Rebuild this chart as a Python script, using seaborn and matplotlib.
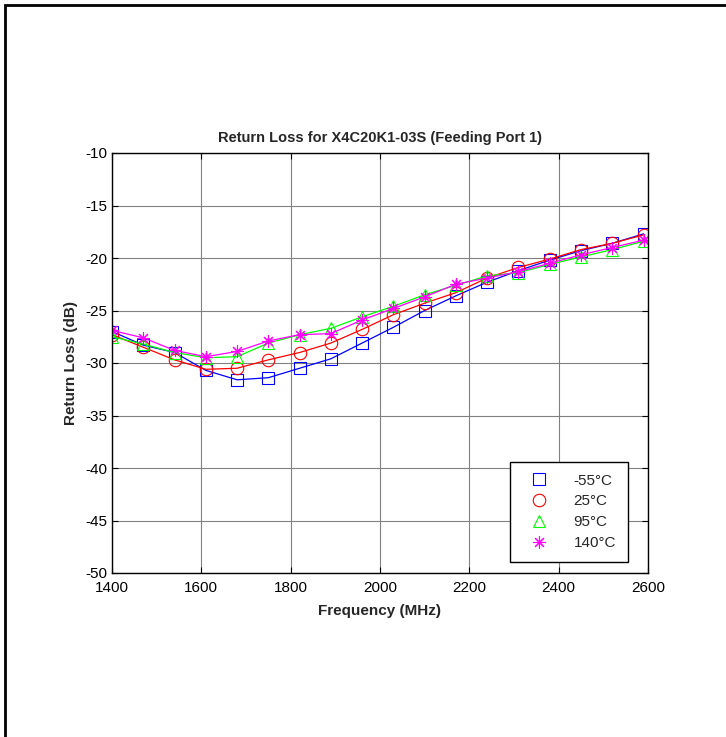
import numpy as np
import pandas as pd
import matplotlib
matplotlib.use("Agg")
import matplotlib.pyplot as plt
from matplotlib.lines import Line2D
from matplotlib.patches import Rectangle
import seaborn as sns

freq = [1400, 1470, 1540, 1610, 1680, 1750, 1820, 1890, 1960, 2030,
        2100, 2170, 2240, 2310, 2380, 2450, 2520, 2590]
rl_m55 = [-27.0, -28.3, -29.0, -30.7, -31.6, -31.4, -30.5, -29.6, -28.1, -26.6,
          -25.0, -23.6, -22.3, -21.2, -20.2, -19.3, -18.6, -17.7]
rl_25 = [-27.3, -28.5, -29.7, -30.6, -30.5, -29.7, -29.0, -28.1, -26.8, -25.4,
         -24.3, -23.3, -21.9, -20.9, -20.1, -19.2, -18.6, -17.8]
rl_95 = [-27.5, -28.2, -29.0, -29.5, -29.4, -28.1, -27.3, -26.7, -25.6, -24.6,
         -23.5, -22.6, -21.7, -21.4, -20.6, -19.9, -19.2, -18.4]
rl_140 = [-26.9, -27.6, -28.8, -29.4, -28.9, -27.9, -27.3, -27.2, -25.9, -24.8,
          -23.7, -22.5, -21.9, -21.3, -20.5, -19.7, -19.0, -18.3]
labels = ["-55°C", "25°C", "95°C", "140°C"]
colors = ["#0000ff", "#ff0000", "#00ff00", "#ff00ff"]
markers = ["s", "o", "^", (8, 2, 0)]
msizes = [9, 9, 9, 9]

sns.set_theme(style="white")
plt.rcParams['font.family'] = ['Liberation Sans', 'DejaVu Sans']
plt.rcParams['axes.unicode_minus'] = False

fig = plt.figure(figsize=(7.26, 7.37), dpi=100)
ax = fig.add_axes([112/726, 1 - 573/737, (648-112)/726, (573-153)/737])

series = [rl_m55, rl_25, rl_95, rl_140]
for vals, lab, c, m, ms in zip(series, labels, colors, markers, msizes):
    df = pd.DataFrame({"Frequency": freq, "RL": vals})
    sns.lineplot(data=df, x="Frequency", y="RL", ax=ax, color=c, lw=0.9,
                 marker=m, markersize=ms, markerfacecolor='none',
                 markeredgecolor=c, markeredgewidth=0.8, legend=False)

ax.set_xlim(1400, 2600)
ax.set_ylim(-50, -10)
ax.set_xticks(np.arange(1400, 2601, 200))
ax.set_yticks(np.arange(-50, -9, 5))
ax.grid(True, color='#808080', lw=0.8, ls='-')
ax.tick_params(axis='both', direction='in', length=4, width=0.8, labelsize=11,
               colors='black', top=True, right=True, bottom=True, left=True, pad=3)
ax.tick_params(axis='x', pad=6)
for s in ax.spines.values():
    s.set_color('black')
    s.set_linewidth(1.0)
ax.set_xlabel("Frequency (MHz)", fontsize=11, fontweight='bold', labelpad=6)
ax.set_ylabel("Return Loss (dB)", fontsize=11, fontweight='bold', labelpad=6)
ax.set_title("Return Loss for X4C20K1-03S (Feeding Port 1)", fontsize=10.5,
             fontweight='bold', pad=8)

handles = [Line2D([], [], ls='none', marker=m, markersize=ms, markerfacecolor='none',
                  markeredgecolor=c, markeredgewidth=0.8, color=c)
           for m, ms, c in zip(markers, msizes, colors)]
leg = ax.legend(handles, labels, loc='lower right', bbox_to_anchor=(0.962, 0.027),
                fontsize=11, frameon=True, fancybox=False, edgecolor='black',
                framealpha=1, handlelength=2.2, handletextpad=1.2,
                borderpad=0.75, labelspacing=0.45, borderaxespad=0)
leg.get_frame().set_linewidth(1.0)

fig.patches.append(Rectangle((5/726, -0.05), 1.2, 1 - 5/737 + 0.05,
                             transform=fig.transFigure, fill=False,
                             edgecolor='black', lw=2, figure=fig))

fig.savefig("out.png", dpi=100, facecolor='white')
